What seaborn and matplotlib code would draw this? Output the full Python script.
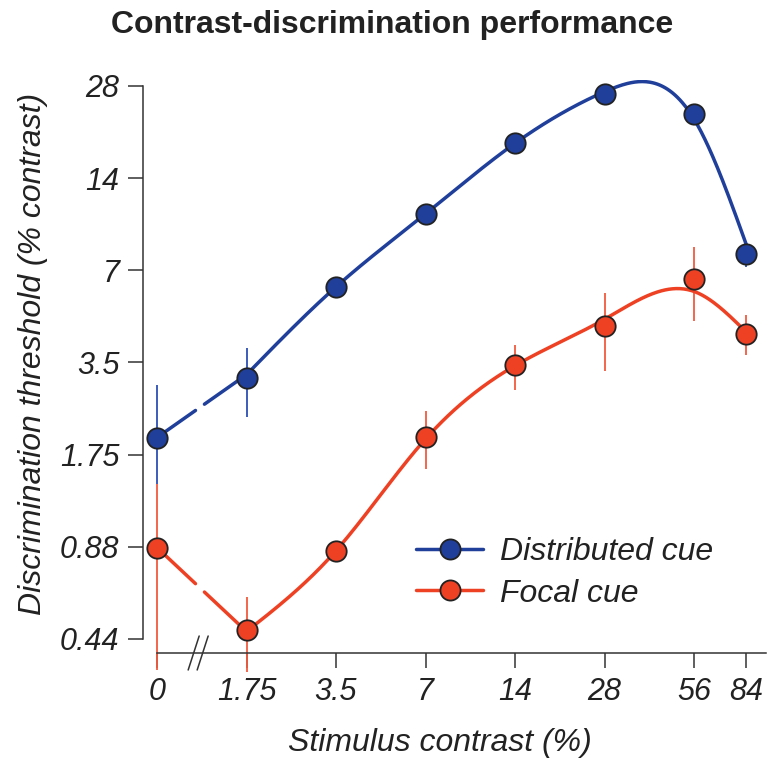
import numpy as np
import pandas as pd
import matplotlib
matplotlib.use("Agg")
import matplotlib.pyplot as plt
import seaborn as sns
from matplotlib.lines import Line2D
from matplotlib.transforms import IdentityTransform

# ---------------- data ----------------
contrast = [0, 1.75, 3.5, 7, 14, 28, 56, 84]
contrast_labels = ["0", "1.75", "3.5", "7", "14", "28", "56", "84"]
threshold_ticks = [0.4375, 0.875, 1.75, 3.5, 7, 14, 28]
threshold_labels = ["0.44", "0.88", "1.75", "3.5", "7", "14", "28"]

dist_thr = [1.99, 3.12, 6.19, 10.66, 18.2, 26.4, 22.7, 7.9]
dist_lo = [1.40, 2.33, 5.9, 10.2, 17.5, 25.5, 21.8, 7.16]
dist_hi = [2.96, 3.91, 6.5, 11.1, 18.9, 27.3, 23.6, 8.6]

focal_thr = [0.87, 0.468, 0.849, 2.0, 3.42, 4.59, 6.55, 4.32]
focal_lo = [0.347, 0.341, 0.81, 1.575, 2.84, 3.27, 4.78, 3.69]
focal_hi = [1.40, 0.60, 0.89, 2.42, 3.98, 5.88, 8.32, 4.98]

series_names = ["Distributed cue", "Focal cue"]

BLUE = "#1f3f9b"
BLUE_ERR = "#2d4fb3"
RED = "#ee4124"
RED_ERR = "#f25a3e"
EDGE = "#222222"
TXT = "#222222"

# ---------------- style ----------------
sns.set_theme(style="ticks")
plt.rcParams["font.family"] = ["Liberation Sans", "DejaVu Sans"]
plt.rcParams["axes.edgecolor"] = "#333333"

W, H = 768, 765
fig = plt.figure(figsize=(W / 100, H / 100), dpi=100)
ax = fig.add_axes([143 / W, 1 - 653 / H, (766 - 143) / W, (653 - 80) / H])
ax.set_xscale("log", base=2)
ax.set_yscale("log", base=2)

zero_pos = contrast[1] / 2.0  # position at which the "0" condition is drawn
xpos = np.array([zero_pos] + contrast[1:], dtype=float)

ax.set_xlim(zero_pos * 2 ** (-14 / 89.5), zero_pos * 2 ** (609 / 89.5))
ax.set_ylim(0.4375 * 2 ** (-14 / 92.2), 0.4375 * 2 ** (559 / 92.2))


def smooth_fit(x, y, sig, lam, n=400):
    """Penalised (smoothing-spline-like) fit in log-log space."""
    x = np.asarray(x, float)
    y = np.asarray(y, float)
    g = np.linspace(x[0], x[-1], n)
    h = g[1] - g[0]
    B = np.zeros((len(x), n))
    for i, xi in enumerate(x):
        j = min(int((xi - g[0]) / h), n - 2)
        t = (xi - g[j]) / h
        B[i, j] = 1 - t
        B[i, j + 1] = t
    Wt = np.diag(1.0 / np.asarray(sig) ** 2)
    D = np.diff(np.eye(n), 2, axis=0)
    A = B.T @ Wt @ B + lam / h ** 3 * (D.T @ D)
    f = np.linalg.solve(A, B.T @ Wt @ y)
    return g, f


def draw_series(thr, lo, hi, color, ecolor, lam, floor):
    thr = np.asarray(thr, float)
    ax.vlines(xpos, lo, hi, colors=ecolor, lw=1.3, zorder=2, clip_on=False)
    lx = np.log2(xpos[1:])
    ly = np.log2(thr[1:])
    sig = np.maximum((np.log2(hi[1:]) - np.log2(lo[1:])) / 2, floor)
    gx, gy = smooth_fit(lx, ly, sig, lam)
    curve = pd.DataFrame({"x": 2 ** gx, "y": 2 ** gy})
    sns.lineplot(data=curve, x="x", y="y", ax=ax, color=color, lw=2.5, zorder=3,
                 sort=False, estimator=None)
    # broken connection between 0 and 1.75
    for t0, t1 in [(0.0, 0.43), (0.53, 1.0)]:
        t = np.linspace(t0, t1, 20)
        seg = pd.DataFrame({
            "x": 2 ** (np.log2(xpos[0]) + t * (np.log2(xpos[1]) - np.log2(xpos[0]))),
            "y": 2 ** (np.log2(thr[0]) + t * (gy[0] - np.log2(thr[0]))),
        })
        sns.lineplot(data=seg, x="x", y="y", ax=ax, color=color, lw=2.5, zorder=3,
                     sort=False, estimator=None)
    pts = pd.DataFrame({"x": xpos, "y": thr})
    sns.scatterplot(data=pts, x="x", y="y", ax=ax, color=color, s=215,
                    edgecolor=EDGE, linewidth=1.3, zorder=4, clip_on=False)


draw_series(focal_thr, focal_lo, focal_hi, RED, RED_ERR, lam=0.14, floor=0.06)
draw_series(dist_thr, dist_lo, dist_hi, BLUE, BLUE_ERR, lam=0.9, floor=0.08)

# ---------------- axes ----------------
ax.xaxis.set_minor_locator(matplotlib.ticker.NullLocator())
ax.yaxis.set_minor_locator(matplotlib.ticker.NullLocator())
ax.set_xticks(xpos)
ax.set_xticklabels(contrast_labels)
ax.set_yticks(threshold_ticks)
ax.set_yticklabels(threshold_labels)
for lab in ax.get_xticklabels() + ax.get_yticklabels():
    lab.set_fontstyle("italic")
    lab.set_fontsize(22)
    lab.set_color(TXT)
ax.tick_params(axis="both", direction="out", length=11, width=1.1, color="#333333")
ax.tick_params(axis="x", pad=6)
ax.tick_params(axis="y", pad=6)
ax.set_xlabel("")
ax.set_ylabel("")
sns.despine(ax=ax)
ax.spines["left"].set_bounds(threshold_ticks[0], threshold_ticks[-1])
ax.spines["bottom"].set_bounds(xpos[0], ax.get_xlim()[1])
for s in ["left", "bottom"]:
    ax.spines[s].set_linewidth(1.1)

# axis break marks
fig.canvas.draw()
bx, by = ax.transData.transform((zero_pos * 2 ** 0.46, ax.get_ylim()[0]))
for dx in (-4.5, 4.5):
    ax.add_line(Line2D([bx + dx - 5.5, bx + dx + 5.5], [by - 17, by + 17],
                       transform=IdentityTransform(), color="#333333", lw=1.1,
                       clip_on=False))

# ---------------- texts ----------------
fig.text(392 / W, 1 - 33 / H, "Contrast-discrimination performance", ha="center",
         va="baseline", fontsize=23, fontweight="bold", color=TXT)
fig.text(440 / W, 1 - 743 / H, "Stimulus contrast (%)", ha="center", va="center",
         fontsize=23, fontstyle="italic", color=TXT)
fig.text(33 / W, 1 - 354 / H, "Discrimination threshold (% contrast)", ha="center",
         va="center", rotation=90, fontsize=23, fontstyle="italic", color=TXT)

handles = [
    Line2D([], [], color=BLUE, lw=2.5, marker="o", ms=14.5, mfc=BLUE, mec=EDGE, mew=1.3),
    Line2D([], [], color=RED, lw=2.5, marker="o", ms=14.5, mfc=RED, mec=EDGE, mew=1.3),
]
leg = fig.legend(handles, series_names, loc="center left",
                 bbox_to_anchor=(416 / W, 1 - 573 / H), frameon=False,
                 handlelength=2.1, handletextpad=0.53, labelspacing=0.35,
                 borderpad=0, borderaxespad=0,
                 prop={"size": 23, "style": "italic"})
for t in leg.get_texts():
    t.set_color(TXT)

fig.savefig("out.png", dpi=100)
